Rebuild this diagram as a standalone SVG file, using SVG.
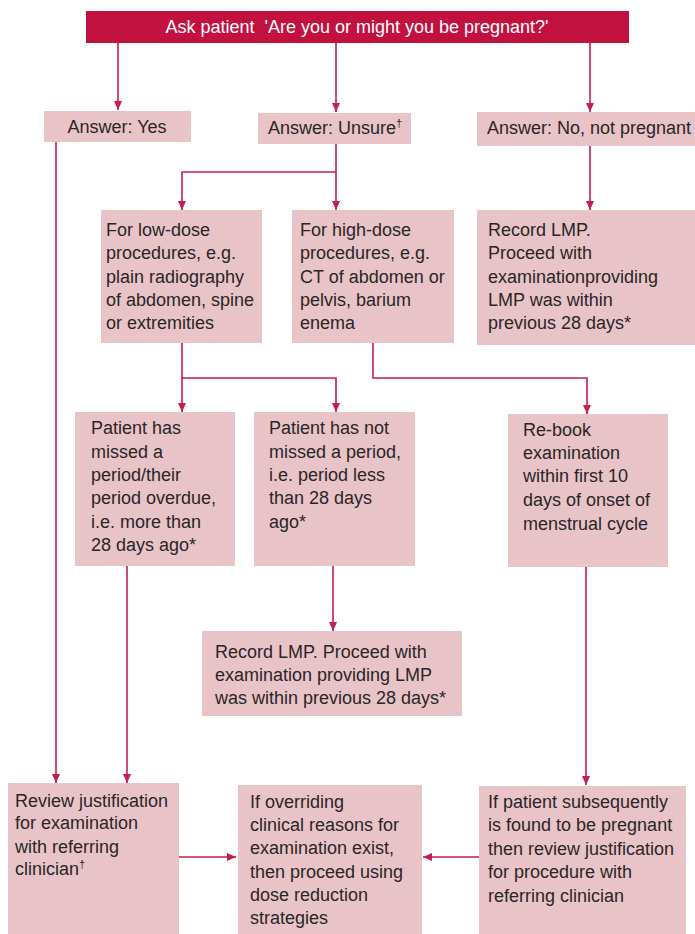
<svg xmlns="http://www.w3.org/2000/svg" width="695" height="934" viewBox="0 0 695 934">
<style>
.box{fill:#e8c4c8}
.ban{fill:#c3113f}
.t{font-family:"Liberation Sans",Arial,sans-serif;font-size:18px;fill:#2b2527}
.w{fill:#ffffff;white-space:pre}
.c{fill:none;stroke:#c41e4e;stroke-width:1.6}
.a{marker-end:url(#ah)}
.sup{font-size:11px}
</style>
<defs>
<marker id="ah" markerUnits="userSpaceOnUse" markerWidth="9" markerHeight="9" refX="9" refY="4.5" orient="auto">
<path d="M0,0.5 L9,4.5 L0,8.5 z" fill="#c41e4e"/>
</marker>
</defs>
<rect width="695" height="934" fill="#ffffff"/>
<g id="connectors">
<path class="c a" d="M118,43 V110"/>
<path class="c a" d="M336,43 V112"/>
<path class="c a" d="M590,43 V112"/>
<path class="c a" d="M56,142 V783"/>
<path class="c a" d="M336,144 V210"/>
<path class="c a" d="M336,172 H182 V210"/>
<path class="c a" d="M590,146 V210"/>
<path class="c a" d="M182,343 V378 H336 V412"/>
<path class="c a" d="M182,378 V412"/>
<path class="c a" d="M373,343 V378 H587 V414"/>
<path class="c a" d="M127,566 V783"/>
<path class="c a" d="M333,566 V631"/>
<path class="c a" d="M586,567 V785"/>
<path class="c a" d="M179,857 H236"/>
<path class="c a" d="M479,857 H423"/>
</g>
<g id="ask">
<rect class="ban" x="86" y="11" width="543" height="32"/>
<text class="t w" x="357" y="33" text-anchor="middle" xml:space="preserve">Ask patient  'Are you or might you be pregnant?'</text>
</g>
<g id="yes">
<rect class="box" x="44" y="111" width="147" height="31"/>
<text class="t" x="117" y="133" text-anchor="middle">Answer: Yes</text>
</g>
<g id="unsure">
<rect class="box" x="258" y="113" width="153" height="31"/>
<text class="t" x="335" y="134" text-anchor="middle">Answer: Unsure<tspan class="sup" dy="-7">†</tspan></text>
</g>
<g id="no">
<rect class="box" x="477" y="112" width="218" height="34"/>
<text class="t" x="487" y="134">Answer: No, not pregnant</text>
</g>
<g id="lowdose">
<rect class="box" x="101" y="210" width="161" height="133"/>
<text class="t" x="106" y="236">For low-dose</text>
<text class="t" x="106" y="259">procedures, e.g.</text>
<text class="t" x="106" y="283">plain radiography</text>
<text class="t" x="106" y="306">of abdomen, spine</text>
<text class="t" x="106" y="329">or extremities</text>
</g>
<g id="highdose">
<rect class="box" x="292" y="210" width="162" height="133"/>
<text class="t" x="300" y="236">For high-dose</text>
<text class="t" x="300" y="259">procedures, e.g.</text>
<text class="t" x="300" y="283">CT of abdomen or</text>
<text class="t" x="300" y="306">pelvis, barium</text>
<text class="t" x="300" y="329">enema</text>
</g>
<g id="recordlmp1">
<rect class="box" x="477" y="210" width="218" height="135"/>
<text class="t" x="488" y="236">Record LMP.</text>
<text class="t" x="488" y="259">Proceed with</text>
<text class="t" x="488" y="283">examinationproviding</text>
<text class="t" x="488" y="306">LMP was within</text>
<text class="t" x="488" y="329">previous 28 days*</text>
</g>
<g id="missed">
<rect class="box" x="75" y="412" width="160" height="154"/>
<text class="t" x="91" y="434">Patient has</text>
<text class="t" x="91" y="458">missed a</text>
<text class="t" x="91" y="481">period/their</text>
<text class="t" x="91" y="504">period overdue,</text>
<text class="t" x="91" y="528">i.e. more than</text>
<text class="t" x="91" y="551">28 days ago*</text>
</g>
<g id="notmissed">
<rect class="box" x="254" y="412" width="161" height="154"/>
<text class="t" x="269" y="434">Patient has not</text>
<text class="t" x="269" y="458">missed a period,</text>
<text class="t" x="269" y="481">i.e. period less</text>
<text class="t" x="269" y="504">than 28 days</text>
<text class="t" x="269" y="528">ago*</text>
</g>
<g id="rebook">
<rect class="box" x="508" y="414" width="160" height="153"/>
<text class="t" x="523" y="436">Re-book</text>
<text class="t" x="523" y="459">examination</text>
<text class="t" x="523" y="482">within first 10</text>
<text class="t" x="523" y="506">days of onset of</text>
<text class="t" x="523" y="530">menstrual cycle</text>
</g>
<g id="recordlmp2">
<rect class="box" x="202" y="631" width="260" height="85"/>
<text class="t" x="215" y="658">Record LMP. Proceed with</text>
<text class="t" x="215" y="681">examination providing LMP</text>
<text class="t" x="215" y="704">was within previous 28 days*</text>
</g>
<g id="review">
<rect class="box" x="8" y="783" width="171" height="151"/>
<text class="t" x="15" y="807">Review justification</text>
<text class="t" x="15" y="829">for examination</text>
<text class="t" x="15" y="853">with referring</text>
<text class="t" x="15" y="875">clinician<tspan class="sup" dy="-7">†</tspan></text>
</g>
<g id="overriding">
<rect class="box" x="238" y="785" width="184" height="149"/>
<text class="t" x="250" y="808">If overriding</text>
<text class="t" x="250" y="831">clinical reasons for</text>
<text class="t" x="250" y="854">examination exist,</text>
<text class="t" x="250" y="878">then proceed using</text>
<text class="t" x="250" y="901">dose reduction</text>
<text class="t" x="250" y="924">strategies</text>
</g>
<g id="subsequently">
<rect class="box" x="479" y="786" width="207" height="148"/>
<text class="t" x="488" y="808">If patient subsequently</text>
<text class="t" x="488" y="831">is found to be pregnant</text>
<text class="t" x="488" y="855">then review justification</text>
<text class="t" x="488" y="878">for procedure with</text>
<text class="t" x="488" y="902">referring clinician</text>
</g>
</svg>
